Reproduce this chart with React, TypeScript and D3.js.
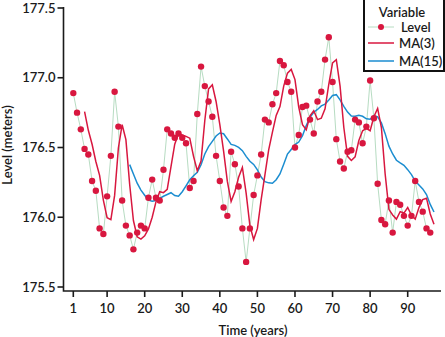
import React from "react";
import * as d3 from "d3";

const levels: number[] = [
  176.89, 176.75, 176.63, 176.49, 176.45, 176.26, 176.19, 175.92, 175.88, 176.15,
  176.44, 176.9, 176.65, 176.12, 175.94, 175.87, 175.77, 175.89, 175.94, 175.92,
  176.14, 176.27, 176.14, 176.12, 176.34, 176.63, 176.6, 176.57, 176.6, 176.57,
  176.53, 176.21, 176.26, 176.74, 177.08, 176.94, 176.83, 176.72, 176.44, 176.26,
  176.07, 176.01, 176.47, 176.38, 176.22, 175.92, 175.68, 175.92, 176.16, 176.3,
  176.45, 176.7, 176.68, 176.81, 176.89, 177.12, 177.09, 176.97, 176.9, 176.5,
  176.59, 176.79, 176.8, 176.7, 176.6, 176.83, 176.9, 177.13, 177.29, 176.97,
  176.56, 176.4, 176.35, 176.47, 176.48, 176.7, 176.68, 176.53, 176.65, 176.98,
  176.71, 176.24, 175.98, 175.95, 176.12, 175.89, 176.11, 176.09, 176.01, 175.94,
  176.01, 176.26, 176.11, 176.04, 175.92, 175.89,
];
const xTicks: number[] = [1, 10, 20, 30, 40, 50, 60, 70, 80, 90];
const yTicks: number[] = [175.5, 176.0, 176.5, 177.0, 177.5];
const maLengths: number[] = [3, 15];
const seriesNames: string[] = ["Level", "MA(3)", "MA(15)"];

type Pt = { t: number; v: number };

const levelPts: Pt[] = levels.map((v, i) => ({ t: i + 1, v }));

// Moving-average fits (forecast for t = mean of previous L observations)
function movingAverage(L: number): Pt[] {
  const out: Pt[] = [];
  for (let t = L + 1; t <= levels.length + 1; t++) {
    out.push({ t, v: d3.mean(levels.slice(t - 1 - L, t - 1)) as number });
  }
  return out;
}

const FONT = "Lato, 'Open Sans', sans-serif";
const RED = "#d8173f";
const BLUE = "#1b8dd0";
const GREEN = "#b7dcc2";
const INK = "#1a1a1a";

export default function App() {
  const W = 445, H = 337;
  const x = d3.scaleLinear().domain([1, 90]).range([73.3, 407.7]);
  const y = d3.scaleLinear().domain([175.5, 177.5]).range([287, 8]);
  const line = d3
    .line<Pt>()
    .x((d) => x(d.t))
    .y((d) => y(d.v));
  const ma3 = movingAverage(maLengths[0]);
  const ma15 = movingAverage(maLengths[1]);
  const axisY = 291;
  const axisX = 63.5;

  return (
    <svg
      width={W}
      height={H}
      style={{ position: "absolute", left: 0, top: 0, background: "#fff" }}
      fontFamily={FONT}
      fontWeight={600}
    >
      <path d={line(levelPts) || ""} fill="none" stroke={GREEN} strokeWidth={1} />
      <path d={line(ma15) || ""} fill="none" stroke={BLUE} strokeWidth={1.5} />
      <path d={line(ma3) || ""} fill="none" stroke={RED} strokeWidth={1.5} />
      {levelPts.map((d) => (
        <circle key={d.t} cx={x(d.t)} cy={y(d.v)} r={3.2} fill={RED} />
      ))}

      {/* axes */}
      <path
        d={`M${axisX},7 V${axisY} H441`}
        fill="none"
        stroke={INK}
        strokeWidth={1.6}
      />
      {yTicks.map((v) => (
        <g key={v}>
          <line x1={axisX - 6} x2={axisX} y1={y(v)} y2={y(v)} stroke={INK} strokeWidth={1.6} />
          <text
            x={axisX - 8}
            y={y(v)}
            dy="0.36em"
            textAnchor="end"
            fontSize={13}
            fill={INK}
          >
            {v.toFixed(1)}
          </text>
        </g>
      ))}
      {xTicks.map((t) => (
        <g key={t}>
          <line x1={x(t)} x2={x(t)} y1={axisY} y2={axisY + 6} stroke={INK} strokeWidth={1.6} />
          <text x={x(t)} y={axisY + 22} textAnchor="middle" fontSize={13} fill={INK}>
            {t}
          </text>
        </g>
      ))}
      <text x={253} y={335} textAnchor="middle" fontSize={13} fill={INK}>
        Time (years)
      </text>
      <text
        transform="translate(12,145) rotate(-90)"
        textAnchor="middle"
        fontSize={13}
        fill={INK}
      >
        Level (meters)
      </text>

      {/* legend */}
      <rect x={364} y={-2} width={80} height={73} fill="#fff" stroke="#111" strokeWidth={2} />
      <text x={402} y={17} textAnchor="middle" fontSize={13} fill={INK}>
        Variable
      </text>
      <line x1={368} x2={394} y1={27} y2={27} stroke={GREEN} strokeWidth={1} />
      <circle cx={381} cy={27} r={3} fill={RED} />
      <text x={401} y={31.5} fontSize={13} fill={INK}>{seriesNames[0]}</text>
      <line x1={368} x2={394} y1={43} y2={43} stroke={RED} strokeWidth={1.5} />
      <text x={399} y={47.5} fontSize={13} fill={INK}>{seriesNames[1]}</text>
      <line x1={368} x2={394} y1={61} y2={61} stroke={BLUE} strokeWidth={1.5} />
      <text x={399} y={65.5} fontSize={13} fill={INK}>{seriesNames[2]}</text>
    </svg>
  );
}
